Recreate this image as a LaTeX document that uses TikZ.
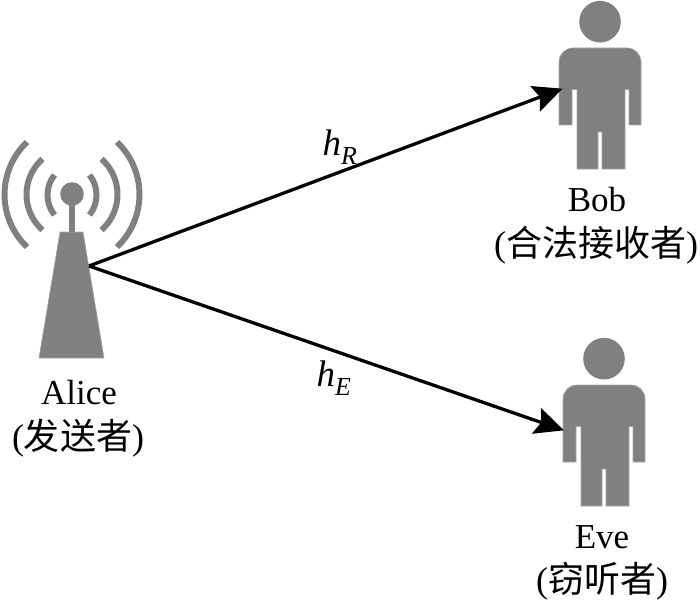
\documentclass[tikz,border=0pt]{standalone}
\usepackage{fontspec}
\setmainfont{Liberation Serif}
\newfontfamily\cjk{Noto Sans CJK SC}
\usetikzlibrary{arrows.meta}
\definecolor{icon}{HTML}{808080}
\tikzset{
  iconfill/.style={fill=icon,draw=icon!70,line width=0.6pt,line join=miter},
  wave/.style={draw=icon,line width=6pt},
  link/.style={draw=black,line width=3.3pt,-{Stealth[length=29pt,width=27pt,inset=5pt]},shorten >=-1pt},
  lab/.style={font=\fontsize{35}{38}\selectfont,inner sep=0pt,anchor=center},
  cjklab/.style={font=\fontsize{36}{38}\selectfont,inner sep=0pt,anchor=center},
  chan/.style={font=\fontsize{37}{40}\selectfont,inner sep=0pt,anchor=center},
  person/.pic={
    \fill[icon] (600,21.7) circle (20.8);
    \path[iconfill] (559,62) arc[start angle=180,end angle=270,radius=14] -- (627,48)
      arc[start angle=270,end angle=360,radius=14] -- (641,125) -- (629,125) -- (629,89.5) -- (625,89.5)
      -- (625,169) -- (602,169) -- (602,132) -- (598,132) -- (598,169) -- (577,169) -- (577,89.5)
      -- (572,89.5) -- (572,125) -- (559,125) -- cycle;
  }
}
\begin{document}
\begin{tikzpicture}[x=1pt,y=-1pt]
\useasboundingbox (0,0) rectangle (700,604);
% tower
\path[iconfill] (60,232) -- (83,232) -- (104,358) -- (39,358) -- cycle;
\fill[icon] (69,200) rectangle (75,232);
\fill[icon] (72,194) circle (11.8);
% waves, left
\draw[wave] (54.5,215) arc[start angle=141.3,end angle=218.7,radius=32];
\draw[wave] (42.5,230) arc[start angle=131.5,end angle=228.5,radius=47.4];
\draw[wave] (27,247) arc[start angle=133.6,end angle=226.4,radius=72.5];
% waves, right
\draw[wave] (89.5,215) arc[start angle=38.7,end angle=-38.7,radius=32];
\draw[wave] (101.5,230) arc[start angle=48.5,end angle=-48.5,radius=47.4];
\draw[wave] (117,247) arc[start angle=46.4,end angle=-46.4,radius=72.5];
% people
\pic at (0,0) {person};
\pic at (4,337) {person};
\coordinate (alice) at (89,266);
\coordinate (bob) at (561.5,89);
\coordinate (eve) at (563,430);
\draw[link] (alice) -- (bob);
\draw[link] (alice) -- (eve);
\node[chan] (hr) at (340,147) {\textit{h}\textsubscript{\textit{R}}};
\node[chan] (he) at (334,378) {\textit{h}\textsubscript{\textit{E}}};
\node[lab] (a1) at (79,393) {Alice};
\node[cjklab] (a2) at (78,438) {({\cjk 发送者})};
\node[lab] (b1) at (597,200) {Bob};
\node[cjklab] (b2) at (596,245) {({\cjk 合法接收者})};
\node[lab] (e1) at (602,537) {Eve};
\node[cjklab] (e2) at (602,581) {({\cjk 窃听者})};
\end{tikzpicture}
\end{document}
